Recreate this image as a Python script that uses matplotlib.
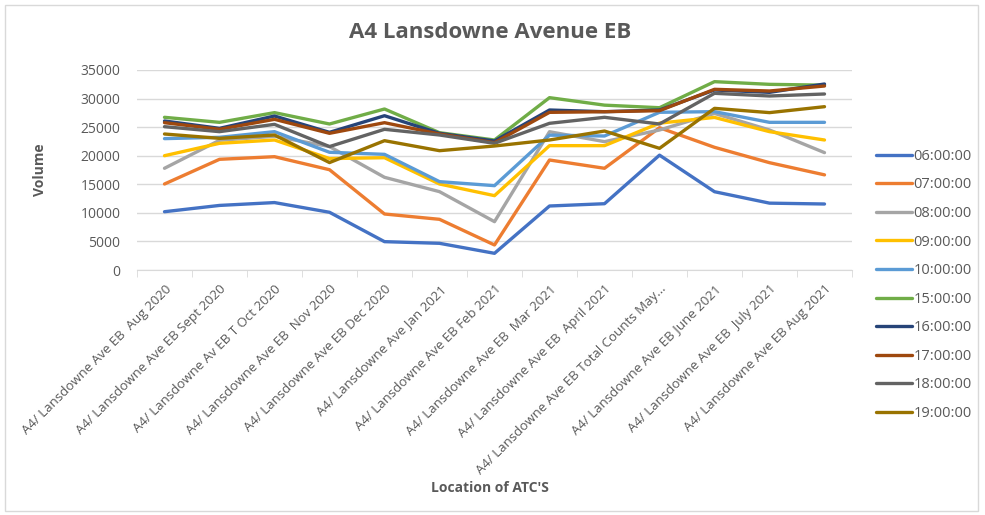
import matplotlib.pyplot as plt
from matplotlib.patches import FancyBboxPatch

# ------ Data ------
locations = [
    "A4/ Lansdowne Ave EB  Aug 2020",
    "A4/ Lansdowne Ave EB Sept 2020",
    "A4/ Lansdowne Av EB T Oct 2020",
    "A4/ Lansdowne Ave EB  Nov 2020",
    "A4/ Lansdowne Ave EB Dec 2020",
    "A4/ Lansdowne Ave Jan 2021",
    "A4/ Lansdowne Ave EB Feb 2021",
    "A4/ Lansdowne Ave EB  Mar 2021",
    "A4/ Lansdowne Ave EB  April 2021",
    "A4/ Lansdowne Ave EB Total Counts May...",
    "A4/ Lansdowne Ave EB June 2021",
    "A4/ Lansdowne Ave EB  July 2021",
    "A4/ Lansdowne Ave EB Aug 2021",
]

hours = ["06:00:00", "07:00:00", "08:00:00", "09:00:00", "10:00:00",
         "15:00:00", "16:00:00", "17:00:00", "18:00:00", "19:00:00"]

h06 = [10200, 11300, 11800, 10100, 4960, 4670, 2920, 11200, 11600, 20100, 13700, 11700, 11550]
h07 = [15050, 19370, 19830, 17550, 9800, 8870, 4380, 19250, 17800, 24900, 21470, 18780, 16650]
h08 = [17800, 22700, 23400, 21600, 16220, 13710, 8460, 24200, 22460, 24500, 27400, 24500, 20540]
h09 = [20000, 22170, 22750, 19500, 19650, 15050, 13010, 21760, 21760, 25700, 26700, 24210, 22750]
h10 = [22990, 23220, 24210, 20600, 20240, 15460, 14760, 23600, 23450, 27600, 27710, 25840, 25840]
h15 = [26720, 25840, 27540, 25550, 28175, 24030, 22750, 30160, 28850, 28400, 32960, 32490, 32350]
h16 = [26075, 24790, 26950, 24090, 27000, 23920, 22575, 28000, 27700, 28000, 31500, 31090, 32550]
h17 = [25780, 24620, 26370, 23920, 25780, 23800, 22280, 27590, 27700, 27880, 31620, 31325, 32200]
h18 = [25080, 24210, 25490, 21600, 24620, 23625, 22170, 25670, 26720, 25550, 30920, 30450, 30800]
h19 = [23800, 23040, 23625, 18800, 22630, 20880, 21700, 22750, 24320, 21290, 28290, 27540, 28580]

series = [h06, h07, h08, h09, h10, h15, h16, h17, h18, h19]
colors = ["#4472C4", "#ED7D31", "#A5A5A5", "#FFC000", "#5B9BD5",
          "#70AD47", "#264478", "#9E480E", "#636363", "#997300"]

TEXT = "#595959"
plt.rcParams['font.family'] = ['Open Sans', 'DejaVu Sans']

# ------ Plot ------
fig = plt.figure(figsize=(9.85, 5.15), dpi=100)
ax = fig.add_axes([137 / 985, 1 - 270 / 515, 715 / 985, 200 / 515])

x = list(range(len(locations)))
for vals, name, c in zip(series, hours, colors):
    ax.plot(x, vals, color=c, lw=2.4, label=name, solid_capstyle='round', solid_joinstyle='round')

ax.set_xlim(-0.5, len(locations) - 0.5)
ax.set_ylim(0, 35000)
ax.set_yticks(range(0, 35001, 5000))
ax.grid(axis='y', color='#D9D9D9', lw=1)
ax.set_axisbelow(True)
for s in ['top', 'right', 'left']:
    ax.spines[s].set_visible(False)
ax.spines['bottom'].set_color('#D9D9D9')

ax.set_xticks(x)
ax.set_xticklabels(locations, rotation=45, ha='right', rotation_mode='anchor',
                   fontsize=9.5, color=TEXT)
ax.tick_params(axis='x', length=0, pad=9)
ax.set_xticks([i - 0.5 for i in range(len(locations) + 1)], minor=True)
ax.tick_params(axis='x', which='minor', length=5, color='#D9D9D9')
ax.tick_params(axis='y', length=0, labelsize=10, labelcolor=TEXT, pad=12)

ax.set_ylabel("Volume", fontsize=10, fontweight='bold', color=TEXT, labelpad=24)
fig.text(490 / 985, 1 - 488 / 515, "Location of ATC'S", fontsize=10, fontweight='bold',
         color=TEXT, ha='center', va='center')
fig.text(490 / 985, 1 - 33 / 515, "A4 Lansdowne Avenue EB", fontsize=16, fontweight='bold',
         color=TEXT, ha='center', va='center')

leg = ax.legend(loc='upper left', bbox_to_anchor=(870 / 985, 1 - 143 / 515),
                bbox_transform=fig.transFigure, frameon=False, fontsize=10.5,
                handlelength=2.5, handletextpad=0.1, labelspacing=0.93, borderaxespad=0)
for t in leg.get_texts():
    t.set_color(TEXT)

# chart border
fig.patches.append(FancyBboxPatch((5 / 985, 4 / 515), 973 / 985, 506 / 515,
                                  boxstyle='square,pad=0', transform=fig.transFigure,
                                  fill=False, ec='#D9D9D9', lw=1))

fig.savefig("out.png", dpi=100)
